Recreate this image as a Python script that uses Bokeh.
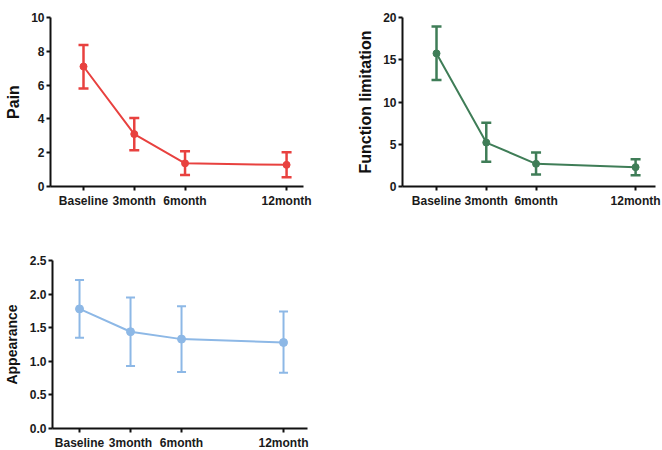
from bokeh.plotting import figure
from bokeh.models import Range1d, FixedTicker, Whisker, TeeHead, ColumnDataSource, PrintfTickFormatter
from bokeh.layouts import column, row
from bokeh.embed import file_html
from bokeh.resources import INLINE

months = [0, 3, 6, 12]
month_labels = ["Baseline", "3month", "6month", "12month"]

pain_mean = [7.1, 3.1, 1.37, 1.28]
pain_upper = [8.38, 4.05, 2.08, 2.02]
pain_lower = [5.8, 2.14, 0.68, 0.54]

func_mean = [15.75, 5.2, 2.68, 2.29]
func_upper = [18.93, 7.55, 4.02, 3.23]
func_lower = [12.6, 2.93, 1.42, 1.34]

app_mean = [1.78, 1.44, 1.33, 1.28]
app_upper = [2.21, 1.95, 1.82, 1.74]
app_lower = [1.35, 0.93, 0.84, 0.83]

pain_ticks = [0, 2, 4, 6, 8, 10]
func_ticks = [0, 5, 10, 15, 20]
app_ticks = [0, 0.5, 1.0, 1.5, 2.0, 2.5]

FONT = "Liberation Sans"


def panel(mean, upper, lower, color, ylabel, yticks, xr, fw, fh, bl, br, bt, bb,
          lw=2, whisk_w=2.5, cap=10, msize=7, label_size="16px", label_standoff=6, fmt=None):
    p = figure(frame_width=fw, frame_height=fh, x_range=Range1d(*xr),
               y_range=Range1d(yticks[0], yticks[-1]),
               min_border_left=bl, min_border_right=br, min_border_top=bt, min_border_bottom=bb,
               output_backend="svg", toolbar_location=None)
    p.outline_line_color = None
    p.xgrid.visible = False
    p.ygrid.visible = False
    src = ColumnDataSource(dict(x=months, mean=mean, upper=upper, lower=lower))
    w = Whisker(source=src, base="x", upper="upper", lower="lower",
                line_color=color, line_width=whisk_w,
                upper_head=TeeHead(size=cap, line_color=color, line_width=whisk_w),
                lower_head=TeeHead(size=cap, line_color=color, line_width=whisk_w))
    p.add_layout(w)
    p.line("x", "mean", source=src, line_color=color, line_width=lw)
    p.scatter("x", "mean", source=src, size=msize, fill_color=color, line_color=color)

    for ax in (p.xaxis[0], p.yaxis[0]):
        ax.axis_line_width = 2
        ax.axis_line_color = "#111111"
        ax.major_tick_line_width = 2
        ax.major_tick_line_color = "#111111"
        ax.major_tick_out = 4
        ax.major_tick_in = 0
        ax.minor_tick_line_color = None
        ax.major_label_text_font = FONT
        ax.major_label_text_font_style = "bold"
        ax.major_label_text_font_size = "12px"
        ax.major_label_text_color = "#1a1a1a"
        ax.major_label_standoff = 2
    p.xaxis.major_label_standoff = 3

    p.xaxis.ticker = FixedTicker(ticks=months)
    p.xaxis.major_label_overrides = {m: l for m, l in zip(months, month_labels)}
    p.yaxis.ticker = FixedTicker(ticks=yticks)
    if fmt:
        p.yaxis.formatter = PrintfTickFormatter(format=fmt)
    p.yaxis.axis_label = ylabel
    p.yaxis.axis_label_text_font = FONT
    p.yaxis.axis_label_text_font_style = "bold"
    p.yaxis.axis_label_text_font_size = label_size
    p.yaxis.axis_label_text_color = "#111111"
    p.yaxis.axis_label_standoff = label_standoff
    return p


p1 = panel(pain_mean, pain_upper, pain_lower, "#e8413f", "Pain", pain_ticks,
           (-1.95, 13.0), 253, 169, 50, 27, 17, 54, label_standoff=6)
p2 = panel(func_mean, func_upper, func_lower, "#3f7d57", "Function limitation", func_ticks,
           (-2.05, 13.2), 253, 169, 72, 7, 17, 54, label_standoff=6)
p3 = panel(app_mean, app_upper, app_lower, "#8db8e6", "Appearance", app_ticks,
           (-1.59, 13.41), 255, 168, 50, 25, 20, 22,
           lw=2, whisk_w=2, cap=9, msize=8, label_size="14px", label_standoff=7, fmt="%.1f")

layout = column(row(p1, p2), p3)
open("out.html", "w").write(file_html(layout, INLINE))
